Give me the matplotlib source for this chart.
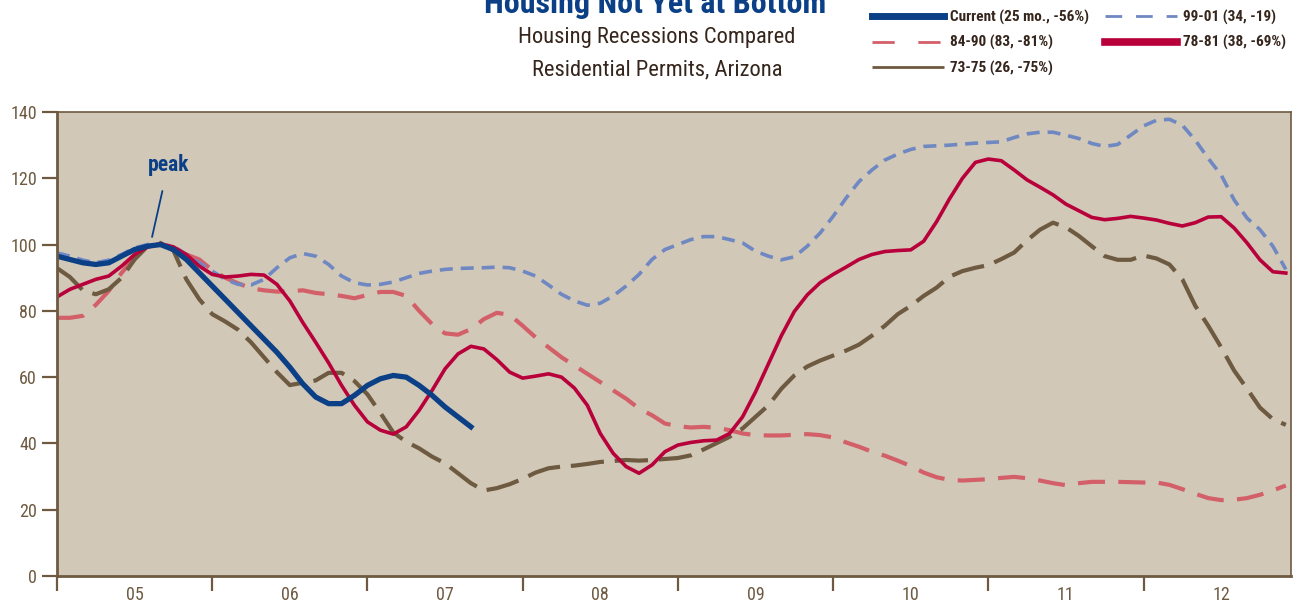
import matplotlib
matplotlib.use("Agg")
import matplotlib.pyplot as plt
from matplotlib import font_manager
from matplotlib.lines import Line2D

# months since Jan 2005 (0..95)
months = list(range(96))

current = [96.5, 95.5, 94.5, 94, 94.5, 96.5, 98.5, 99.5, 100, 98.5, 95.5, 91.5, 87.5, 83.5,
           79.5, 75.5, 71.5, 67.5, 63, 58, 54, 52, 52, 54.5, 57.5, 59.5, 60.5, 60, 57.5, 54.5,
           51, 48, 45]

r78_81 = [84.2, 86.5, 88, 89.5, 90.5, 93.5, 97, 99.3, 100.2, 99.3, 97, 93.5, 91, 90.2, 90.5,
          91, 90.8, 88, 83, 76.5, 70.5, 64.3, 57.5, 51.5, 46.5, 44, 42.8, 45, 50, 56, 62.5,
          67, 69.3, 68.5, 65.3, 61.5, 59.7, 60.3, 61, 60, 56.7, 51.5, 43, 37, 33, 31, 33.5,
          37.5, 39.5, 40.3, 40.8, 41, 43, 48, 55.5, 64, 72.5, 79.8, 84.8, 88.5, 91, 93.2,
          95.5, 97, 97.9, 98.2, 98.4, 101, 106.9, 113.8, 120, 124.8, 125.8, 125.3, 122.5,
          119.5, 117.3, 115, 112.2, 110.2, 108.2, 107.5, 107.9, 108.5, 108, 107.4, 106.4,
          105.6, 106.6, 108.3, 108.4, 105, 100.5, 95.4, 91.8, 91.4]

r84_90 = [77.9, 77.9, 78.5, 81.8, 86, 91.5, 96, 99.3, 100.2, 99, 97, 95.5, 92.3, 90, 88.3,
          86.8, 86.2, 85.8, 85.9, 86.2, 85.4, 85, 84.5, 83.8, 84.8, 85.7, 85.7, 84.5, 80, 76,
          73.2, 72.8, 74.5, 77.5, 79.4, 78.8, 75.5, 72, 69, 66, 63.5, 61, 58.5, 56, 53.5,
          50.5, 48.5, 46, 45.2, 44.8, 45, 44.7, 44, 43, 42.5, 42.4, 42.4, 42.6, 42.8, 42.5,
          41.8, 40.3, 39, 37.5, 36.3, 34.8, 33.2, 31.2, 29.8, 29, 28.8, 29, 29.2, 29.6, 29.9,
          29.5, 28.8, 28, 27.4, 28, 28.4, 28.4, 28.4, 28.3, 28.2, 28.2, 27.5, 26.2, 24.8,
          23.5, 22.9, 23, 23.5, 24.5, 25.8, 27.3]

r73_75 = [92.9, 90.2, 86.2, 85, 86.5, 90, 95.5, 99.5, 100.5, 98.2, 89.5, 83.5, 79, 76.8,
          74.3, 70.5, 66, 61.5, 57.6, 58.3, 59, 61.3, 61.3, 58.8, 54.8, 49.2, 43.3, 40.5,
          38.5, 36, 34, 31, 28, 25.8, 26.5, 27.7, 29.3, 31.2, 32.5, 33, 33.3, 33.8, 34.4,
          34.7, 35, 34.8, 35, 35.3, 35.6, 36.4, 38.2, 40.1, 42, 44.5, 48, 51.5, 56.5, 60.5,
          63.2, 65, 66.5, 68, 69.8, 72.5, 75.5, 79, 81.5, 84.5, 87, 90.3, 92, 93, 93.8, 95.6,
          97.6, 101.3, 104.5, 106.6, 105.2, 102.6, 99.5, 96.5, 95.4, 95.4, 96.7, 95.8, 94,
          89.5, 81.5, 75.5, 69, 62, 56.5, 50.8, 47.3, 45.6]

r99_01 = [97.5, 96.5, 95.3, 94.5, 95.3, 97, 99, 100, 100, 99.5, 97, 94.5, 92, 89.5, 88,
          87.8, 89.5, 93, 96, 97.3, 96.5, 94, 90.5, 88.5, 87.8, 88, 88.7, 90, 91.3, 92, 92.5,
          92.8, 92.9, 93, 93.2, 93, 92, 90.5, 87.8, 85, 83, 81.7, 82.3, 84.5, 87.5, 91, 95.5,
          98.5, 100, 101.5, 102.4, 102.4, 101.5, 100.5, 98, 96.5, 95.4, 96.3, 99.5, 103.5,
          108.5, 114, 119, 122.5, 125.5, 127.3, 128.7, 129.6, 129.8, 130, 130.3, 130.6, 130.8,
          131, 132.3, 133.4, 133.9, 133.9, 133, 132, 130.5, 129.6, 130.2, 133, 135.8, 137.5,
          137.8, 136, 131.5, 126, 121, 113.5, 108, 104.5, 99.5, 92.5]

year_labels = ["05", "06", "07", "08", "09", "10", "11", "12"]

BROWN = "#6e5a40"
NAVY = "#0b3f86"
CRIMSON = "#b8003a"
PINK = "#d35f69"
LBLUE = "#6f88c2"
DARK = "#35251c"

# pick a narrow face if one is installed
names = {f.name for f in font_manager.fontManager.ttflist}
NARROW = "Roboto"
for cand in ["Liberation Sans Narrow", "Roboto Condensed", "Open Sans Condensed",
             "DejaVu Sans Condensed", "Noto Sans Condensed"]:
    if cand in names:
        NARROW = cand
        break
NARROW = [NARROW, "DejaVu Sans"]
STRETCH = "condensed"

fig = plt.figure(figsize=(13.1, 6.07), dpi=100)
ax = fig.add_axes([0.0435, 0.0511, 0.942, 0.7644])
ax.set_facecolor("#d1c8b8")

ax.plot(months[:len(r84_90)], r84_90, color=PINK, lw=3.0, dashes=(6.5, 3.2))
ax.plot(months[:len(r99_01)], r99_01, color=LBLUE, lw=2.6, dashes=(3.6, 2.2))
ax.plot(months[:len(r73_75)], r73_75, color=BROWN, lw=3.0, dashes=(8, 2.6))
ax.plot(months[:len(r78_81)], r78_81, color=CRIMSON, lw=2.6)
ax.plot(months[:len(current)], current, color=NAVY, lw=3.8)

ax.set_xlim(0, 95.4)
ax.set_ylim(0, 140)
ax.set_yticks(range(0, 141, 20))
ax.set_xticks(range(0, 96, 12))
ax.set_xticklabels([])
ax.set_xticks([6 + 12 * i for i in range(len(year_labels))], minor=True)
ax.set_xticklabels(year_labels, minor=True)
ax.tick_params(axis="both", which="major", direction="out", length=11, width=1.6,
               color=BROWN, labelcolor=BROWN, labelsize=13)
ax.tick_params(axis="x", which="minor", length=0, labelcolor=BROWN, labelsize=13, pad=7)
for lab in ax.get_xticklabels(minor=True) + ax.get_yticklabels():
    lab.set_family(NARROW)
    lab.set_stretch(STRETCH)
for side in ["left", "bottom"]:
    ax.spines[side].set_color(BROWN)
    ax.spines[side].set_linewidth(2)
for side in ["top", "right"]:
    ax.spines[side].set_color(BROWN)
    ax.spines[side].set_linewidth(1.2)

ax.annotate("peak", xy=(7.35, 102.3), xytext=(8.6, 124), color=NAVY, fontsize=15.5,
            fontweight="bold", family=NARROW, stretch=STRETCH, ha="center", va="center",
            arrowprops=dict(arrowstyle="-", color=NAVY, lw=1.3, shrinkA=9, shrinkB=0))

fig.text(0.5, 1 - 13 / 607, "Housing Not Yet at Bottom", color=NAVY, fontsize=23,
         fontweight="bold", family=NARROW, stretch=STRETCH, ha="center", va="baseline")
fig.text(0.5015, 1 - 38 / 607, "Housing Recessions Compared", color=DARK, fontsize=16.2,
         family=NARROW, stretch=STRETCH, ha="center", va="center")
fig.text(0.5015, 1 - 70 / 607, "Residential Permits, Arizona", color=DARK, fontsize=16.2,
         family=NARROW, stretch=STRETCH, ha="center", va="center")

handles = [Line2D([], [], color=NAVY, lw=5),
           Line2D([], [], color=PINK, lw=2, dashes=(8, 8.5)),
           Line2D([], [], color=BROWN, lw=2, dashes=(27, 8)),
           Line2D([], [], color=LBLUE, lw=2, dashes=(6, 5)),
           Line2D([], [], color=CRIMSON, lw=5.5)]
labels = ["Current (25 mo., -56%)", "84-90 (83, -81%)", "73-75 (26, -75%)",
          "99-01 (34, -19)", "78-81 (38, -69%)"]
leg = fig.legend(handles, labels, ncol=2, loc="upper left",
                 bbox_to_anchor=(872 / 1310, 1 - 10 / 607), frameon=False,
                 borderpad=0, borderaxespad=0, handlelength=4.7, handletextpad=0.38,
                 columnspacing=1.1, labelspacing=0.68,
                 prop=dict(family=NARROW, weight="bold", size=11, stretch=STRETCH))
for t in leg.get_texts():
    t.set_color(DARK)

fig.savefig("out.png", dpi=100)
